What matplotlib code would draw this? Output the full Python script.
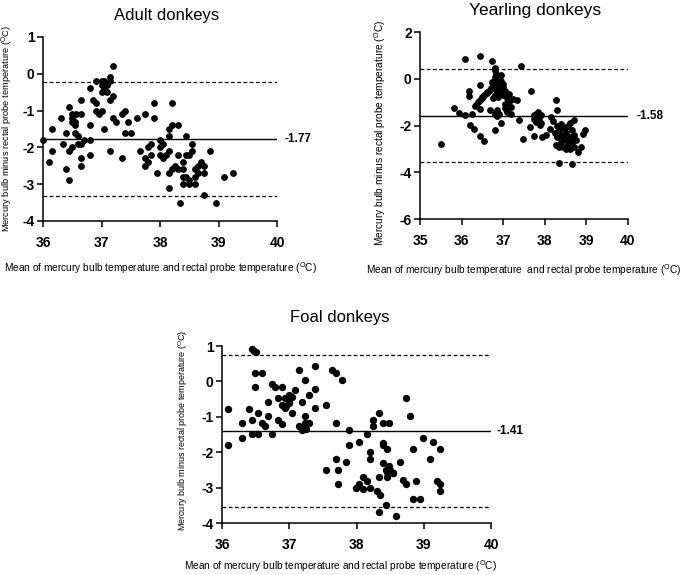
#!/usr/bin/env python3
"""
Bland-Altman plots: mercury bulb vs rectal probe temperature in donkeys.
"""

import matplotlib
matplotlib.use("Agg")
import matplotlib.pyplot as plt

### Start Data ###
# Adult donkeys
ADULT_X = [36.0, 36.1, 36.15, 36.15, 36.3, 36.35, 36.4, 36.4, 36.45, 36.45,
           36.45, 36.5, 36.5, 36.5, 36.55, 36.55, 36.57, 36.6, 36.65, 36.65,
           36.65, 36.65, 36.65, 36.7, 36.8, 36.8, 36.8, 36.8, 36.85, 36.9,
           36.9, 36.9, 36.95, 37.0, 37.0, 37.0, 37.05, 37.05, 37.05, 37.1,
           37.15, 37.15, 37.15, 37.15, 37.2, 37.2, 37.2, 37.25, 37.35, 37.35,
           37.4, 37.4, 37.45, 37.5, 37.6, 37.65, 37.75, 37.75, 37.75, 37.8,
           37.8, 37.85, 37.85, 37.9, 37.9, 37.95, 38.0, 38.0, 38.0, 38.05,
           38.05, 38.1, 38.15, 38.15, 38.15, 38.15, 38.15, 38.2, 38.2, 38.2,
           38.25, 38.3, 38.3, 38.3, 38.35, 38.4, 38.4, 38.4, 38.4, 38.45,
           38.45, 38.5, 38.5, 38.5, 38.55, 38.55, 38.6, 38.6, 38.65, 38.65,
           38.7, 38.75, 38.75, 38.75, 38.85, 38.95, 39.1, 39.25,
           36.5, 36.55, 36.6, 37.0, 37.1, 38.45, 38.6]
ADULT_Y = [-1.8, -2.4, -1.5, -2.1, -1.2, -1.9, -2.6, -1.6, -0.9, -2.9,
           -2.1, -1.3, -2.0, -1.1, -1.4, -1.6, -1.1, -1.7, -0.7, -1.1,
           -1.9, -2.3, -2.5, -1.8, -0.4, -1.4, -1.8, -2.2, -0.7, -0.8,
           -0.2, -1.0, -1.1, -0.2, -1.0, -0.3, -1.5, -0.4, -0.2, -0.5,
           -0.2, -0.1, -0.7, -2.1, -0.6, 0.2, -1.2, -1.3, -2.3, -1.1,
           -1.0, -1.6, -1.3, -1.6, -1.2, -2.1, -1.1, -2.3, -2.5, -2.4,
           -2.0, -1.9, -2.2, -0.8, -1.2, -2.7, -1.8, -2.0, -2.2, -1.9,
           -2.3, -2.2, -1.5, -1.7, -2.7, -3.1, -2.1, -0.8, -1.4, -2.6,
           -2.5, -1.4, -2.2, -2.6, -3.5, -2.4, -2.6, -2.8, -3.0, -1.7,
           -2.2, -2.9, -3.0, -2.2, -1.9, -2.1, -2.8, -3.0, -2.7, -2.5,
           -2.4, -3.3, -2.7, -2.5, -2.1, -3.5, -2.8, -2.7,
           -1.2, -1.3, -1.9, -0.5, -0.3, -2.8, -2.6]
ADULT_MEAN = -1.77
ADULT_LOA = [-0.215, -3.325]

# Yearling donkeys
YEAR_X = [35.5, 35.82, 35.94, 36.09, 36.09, 36.18, 36.18, 36.2, 36.24, 36.3,
          36.32, 36.4, 36.44, 36.44, 36.44, 36.44, 36.54, 36.5, 36.6, 36.68,
          36.74, 36.76, 36.8, 36.8, 36.84, 36.85, 36.88, 36.94, 36.96, 37.0,
          37.04, 37.08, 37.14, 37.24, 37.34, 37.38, 37.44, 37.48, 37.68, 37.64,
          37.74, 37.74, 37.84, 37.88, 37.94, 38.04, 38.12, 38.16, 38.28, 38.3,
          38.28, 38.34, 38.44, 38.52, 38.65, 38.7, 38.8, 38.88, 38.96, 38.92,
          36.35, 36.45, 36.5, 36.55, 36.6, 36.65, 36.7, 36.75, 36.78, 36.8,
          36.82, 36.8, 36.85, 36.9, 36.9, 36.95, 36.85, 36.9, 36.95, 37.0,
          37.0, 37.05, 36.8, 36.75, 36.9, 37.1, 37.1, 37.15, 37.2, 37.2,
          36.8, 36.85, 37.05, 37.1, 36.72, 36.88,
          38.3, 38.35, 38.4, 38.4, 38.45, 38.5, 38.5, 38.55, 38.55, 38.6,
          38.6, 38.65, 38.65, 38.7, 38.7, 38.5, 38.35, 38.3, 38.45, 38.75,
          38.6, 38.4, 38.25, 38.2,
          37.78, 37.85, 37.9, 37.8, 37.92, 37.75]
YEAR_Y = [-2.8, -1.25, -1.45, 0.83, -1.56, -0.52, -0.73, -1.99, -1.49, -2.14,
          -1.15, -1.0, 0.96, -0.25, -2.45, -1.27, -2.67, -0.78, -0.56, -1.35,
          0.75, -0.38, -2.17, 0.36, -0.06, -1.34, -0.78, -1.91, 0.15, -0.35,
          -1.06, -1.27, -0.66, -0.85, -0.89, -1.74, 0.56, -2.56, -0.52, -2.06,
          -2.45, -1.56, -1.42, -1.99, -2.48, -2.41, -2.13, -1.63, -0.92, -1.35,
          -2.85, -3.62, -2.48, -2.06, -3.65, -1.77, -3.12, -2.9, -2.2, -2.34,
          -1.1, -0.9, -0.8, -0.7, -0.6, -0.5, -0.4, -0.3, -0.1, 0.1,
          0.2, 0.45, 0.0, -0.2, 0.1, -0.1, -0.5, -0.6, -0.4, -0.2,
          -0.7, -0.5, -0.7, -0.8, -1.5, -1.1, -1.4, -1.0, -1.2, -1.5,
          -1.5, -1.6, -1.25, -0.8, -0.15, -0.35,
          -2.0, -2.2, -2.4, -2.7, -2.9, -2.6, -2.3, -2.0, -2.8, -2.5,
          -3.0, -2.2, -2.7, -2.4, -2.9, -3.0, -2.9, -2.5, -2.1, -2.6,
          -1.9, -1.95, -2.3, -1.8,
          -1.5, -1.7, -1.55, -1.85, -1.9, -1.7]
YEAR_MEAN = -1.58
YEAR_LOA = [0.42, -3.58]

# Foal donkeys
FOAL_X = [36.09, 36.09, 36.29, 36.29, 36.4, 36.44, 36.44, 36.44, 36.48, 36.51,
          36.49, 36.49, 36.54, 36.54, 36.59, 36.59, 36.64, 36.69, 36.69, 36.74,
          36.74, 36.79, 36.84, 36.84, 36.89, 36.89, 36.89, 36.94, 36.94, 36.99,
          36.99, 37.04, 37.04, 37.09, 37.14, 37.14, 37.19, 37.19, 37.24, 37.24,
          37.24, 37.29, 37.29, 37.39, 37.39, 37.39, 37.54, 37.54, 37.64, 37.69,
          37.69, 37.69, 37.73, 37.73, 37.79, 37.84, 37.89, 37.89, 37.99, 38.04,
          38.04, 38.09, 38.15, 38.2, 38.2, 38.2, 38.25, 38.25, 38.3, 38.34,
          38.34, 38.34, 38.39, 38.39, 38.44, 38.44, 38.49, 38.49, 38.54, 38.59,
          38.64, 38.69, 38.74, 38.74, 38.79, 38.84, 38.84, 38.89, 38.94, 38.99,
          39.09, 39.14, 39.19, 39.24, 39.24, 39.24,
          38.45, 38.5, 38.55, 38.4, 38.45, 38.4, 38.15, 38.35, 38.1, 38.45,
          37.2, 37.25, 37.0, 36.95]
FOAL_Y = [-0.79, -1.79, -1.18, -1.59, -0.78, -1.08, -1.49, 0.93, 0.86, 0.82,
          0.23, -0.17, -0.88, -1.49, 0.23, -1.18, -1.27, -0.99, -0.59, -1.49,
          -0.08, -0.17, -0.48, -1.09, -0.17, -1.2, -0.66, -0.48, -0.76, -0.38,
          -0.59, -0.88, -0.43, -0.24, 0.32, -1.27, -0.57, -1.37, 0.04, -0.99,
          -1.18, -0.38, -1.18, 0.43, -0.2, -0.76, -0.66, -2.49, 0.32, 0.23,
          -1.18, -2.19, -2.49, -2.9, 0.04, -2.29, -1.37, -1.79, -3.0, -1.7,
          -2.9, -2.7, -1.49, -2.0, -2.19, -3.0, -1.27, -1.08, -3.1, -0.88,
          -2.7, -3.7, -1.74, -1.18, -2.49, -3.48, -1.18, -2.4, -2.59, -3.8,
          -2.29, -2.78, -0.48, -2.9, -0.99, -1.9, -3.32, -2.81, -3.32, -1.59,
          -2.19, -1.7, -2.81, -2.9, -3.1, -1.9,
          -2.55, -2.5, -2.6, -2.3, -1.9, -1.8, -2.8, -3.2, -3.05, -2.7,
          -1.3, -1.35, -0.6, -0.7]
FOAL_MEAN = -1.41
FOAL_LOA = [0.74, -3.56]

TITLES = ["Adult donkeys", "Yearling donkeys", "Foal donkeys"]
MEAN_LABELS = ["-1.77", "-1.58", "-1.41"]
#### End Data ####


### Start Style ###
plt.rcParams['font.family'] = ['Liberation Sans', 'DejaVu Sans']
plt.rcParams['mathtext.fontset'] = 'custom'
plt.rcParams['mathtext.rm'] = 'Liberation Sans'
plt.rcParams['axes.unicode_minus'] = False

YLABEL = r"Mercury bulb minus rectal probe temperature ($^{\mathrm{O}}$C)"
XLABEL = r"Mean of mercury bulb temperature and rectal probe temperature ($^{\mathrm{O}}$C)"
XLABEL_Y = r"Mean of mercury bulb temperature  and rectal probe temperature ($^{\mathrm{O}}$C)"
#### End Style ####


def bland_altman(ax, xs, ys, mean, loa, title, mlabel, xlim, ylim, xticks, yticks,
                 xlabel, xlab_pos, ylab_pos, ylab_size, title_pos, title_size,
                 mlab_x, msize):
    ax.scatter(xs, ys, s=msize, color="black", zorder=3, clip_on=False, linewidths=0)
    ax.axhline(mean, color="black", lw=1.0, zorder=2)
    for v in loa:
        ax.axhline(v, color="black", lw=0.9, ls=(0, (3, 2)), zorder=2)
    ax.text(mlab_x, mean, mlabel, transform=ax.get_yaxis_transform(),
            fontsize=8.5, fontweight="bold", va="center", ha="left")
    ax.set_xlim(xlim)
    ax.set_ylim(ylim)
    ax.set_xticks(xticks)
    ax.set_yticks(yticks)
    for lbl in ax.get_xticklabels() + ax.get_yticklabels():
        lbl.set_fontweight("bold")
    ax.tick_params(labelsize=10, width=1.1, length=4.5)
    ax.tick_params(axis="x", pad=6.5)
    ax.tick_params(axis="y", pad=1.5)
    ax.spines["top"].set_visible(False)
    ax.spines["right"].set_visible(False)
    ax.spines["left"].set_linewidth(1.1)
    ax.spines["bottom"].set_linewidth(1.1)
    ax.set_title(title, fontsize=title_size, x=title_pos[0], y=title_pos[1],
                 va="center", pad=0)
    ax.set_xlabel(xlabel, fontsize=7.3, va="top")
    ax.set_ylabel(YLABEL, fontsize=ylab_size)
    ax.xaxis.set_label_coords(*xlab_pos)
    ax.yaxis.set_label_coords(*ylab_pos)


### Start Generate Plots ###
fig = plt.figure(figsize=(6.85, 5.75), dpi=100)

ax1 = fig.add_axes([0.0628, 0.6157, 0.3416, 0.32])
bland_altman(ax1, ADULT_X, ADULT_Y, ADULT_MEAN, ADULT_LOA, TITLES[0], MEAN_LABELS[0],
             (36, 40), (-4, 1), [36, 37, 38, 39, 40], [1, 0, -1, -2, -3, -4],
             XLABEL, (0.5, -0.215), (-0.118, 0.5), 6.7, (0.526, 1.114), 12,
             1.034, 24)

ax2 = fig.add_axes([0.6131, 0.6191, 0.3036, 0.325])
bland_altman(ax2, YEAR_X, YEAR_Y, YEAR_MEAN, YEAR_LOA, TITLES[1], MEAN_LABELS[1],
             (35, 40), (-6, 2), [35, 36, 37, 38, 39, 40], [2, 0, -2, -4, -6],
             XLABEL_Y, (0.5, -0.23), (-0.155, 0.46), 7.3, (0.553, 1.118), 12.5,
             1.043, 24)

ax3 = fig.add_axes([0.3241, 0.0904, 0.3927, 0.3078])
bland_altman(ax3, FOAL_X, FOAL_Y, FOAL_MEAN, FOAL_LOA, TITLES[2], MEAN_LABELS[2],
             (36, 40), (-4, 1), [36, 37, 38, 39, 40], [1, 0, -1, -2, -3, -4],
             XLABEL, (0.442, -0.2), (-0.12, 0.525), 6.5, (0.439, 1.164), 12,
             1.02, 28)

fig.savefig("out.png", dpi=100)
plt.close(fig)
#### End Generate Plots ####
